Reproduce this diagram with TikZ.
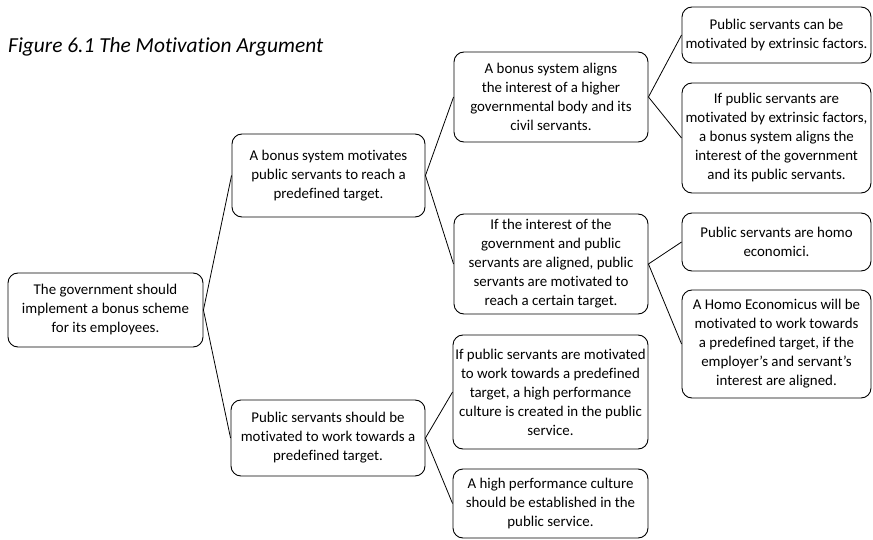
\documentclass[tikz,border=0pt]{standalone}
\usepackage{fontspec}
\setmainfont[Ligatures=NoCommon]{Carlito}
\begin{document}
\begin{tikzpicture}[x=1pt,y=-1pt,
  box/.style={draw, line width=0.9pt, rounded corners=10pt, align=center,
    inner sep=0pt, font=\fontsize{14.9}{19}\selectfont},
  link/.style={draw, line width=0.8pt}]
\useasboundingbox (0,0) rectangle (873,540);

\node[anchor=base west, inner sep=0pt, font=\itshape\fontsize{21.4}{24}\selectfont] (title) at (8,53)
  {Figure 6.1 The Motivation Argument};

% level 1
\node[box, minimum width=195pt, minimum height=74pt] (root) at (105.5,310)
  {The government should\\implement a bonus scheme\\for its employees.};

% level 2
\node[box, minimum width=193pt, minimum height=83pt] (b2) at (328.5,175.5)
  {A bonus system motivates\\public servants to reach a\\predefined target.};
\node[box, minimum width=194pt, minimum height=76pt] (b3) at (328,438)
  {Public servants should be\\motivated to work towards a\\predefined target.};

% level 3
\node[box, minimum width=194pt, minimum height=90pt] (b4) at (551,97)
  {A bonus system aligns\\the interest of a higher\\governmental body and its\\civil servants.};
\node[box, minimum width=194pt, minimum height=100pt] (b5) at (551,264)
  {If the interest of the\\government and public\\servants are aligned, public\\servants are motivated to\\reach a certain target.};
\node[box, minimum width=195pt, minimum height=114pt] (b6) at (550.5,392)
  {If public servants are motivated\\to work towards a predefined\\target, a high performance\\culture is created in the public\\service.};
\node[box, minimum width=195pt, minimum height=69pt] (b7) at (550.5,503.5)
  {A high performance culture\\should be established in the\\public service.};

% level 4
\node[box, minimum width=189pt, minimum height=56pt] (b8) at (776.5,35)
  {Public servants can be\\motivated by extrinsic factors.};
\node[box, minimum width=189pt, minimum height=110pt] (b9) at (776.5,138)
  {If public servants are\\motivated by extrinsic factors,\\a bonus system aligns the\\interest of the government\\and its public servants.};
\node[box, minimum width=189pt, minimum height=58pt] (b10) at (776.5,242)
  {Public servants are homo\\economici.};
\node[box, minimum width=189pt, minimum height=108pt] (b11) at (776.5,344)
  {A Homo Economicus will be\\motivated to work towards\\a predefined target, if the\\employer’s and servant’s\\interest are aligned.};

% connectors
\draw[link] (b2.west) -- (root.east) -- (b3.west);
\draw[link] (b4.west) -- (b2.east) -- (b5.west);
\draw[link] (b6.west) -- (b3.east) -- (b7.west);
\draw[link] (b8.west) -- (b4.east) -- (b9.west);
\draw[link] (b10.west) -- (b5.east) -- (b11.west);
\end{tikzpicture}
\end{document}
